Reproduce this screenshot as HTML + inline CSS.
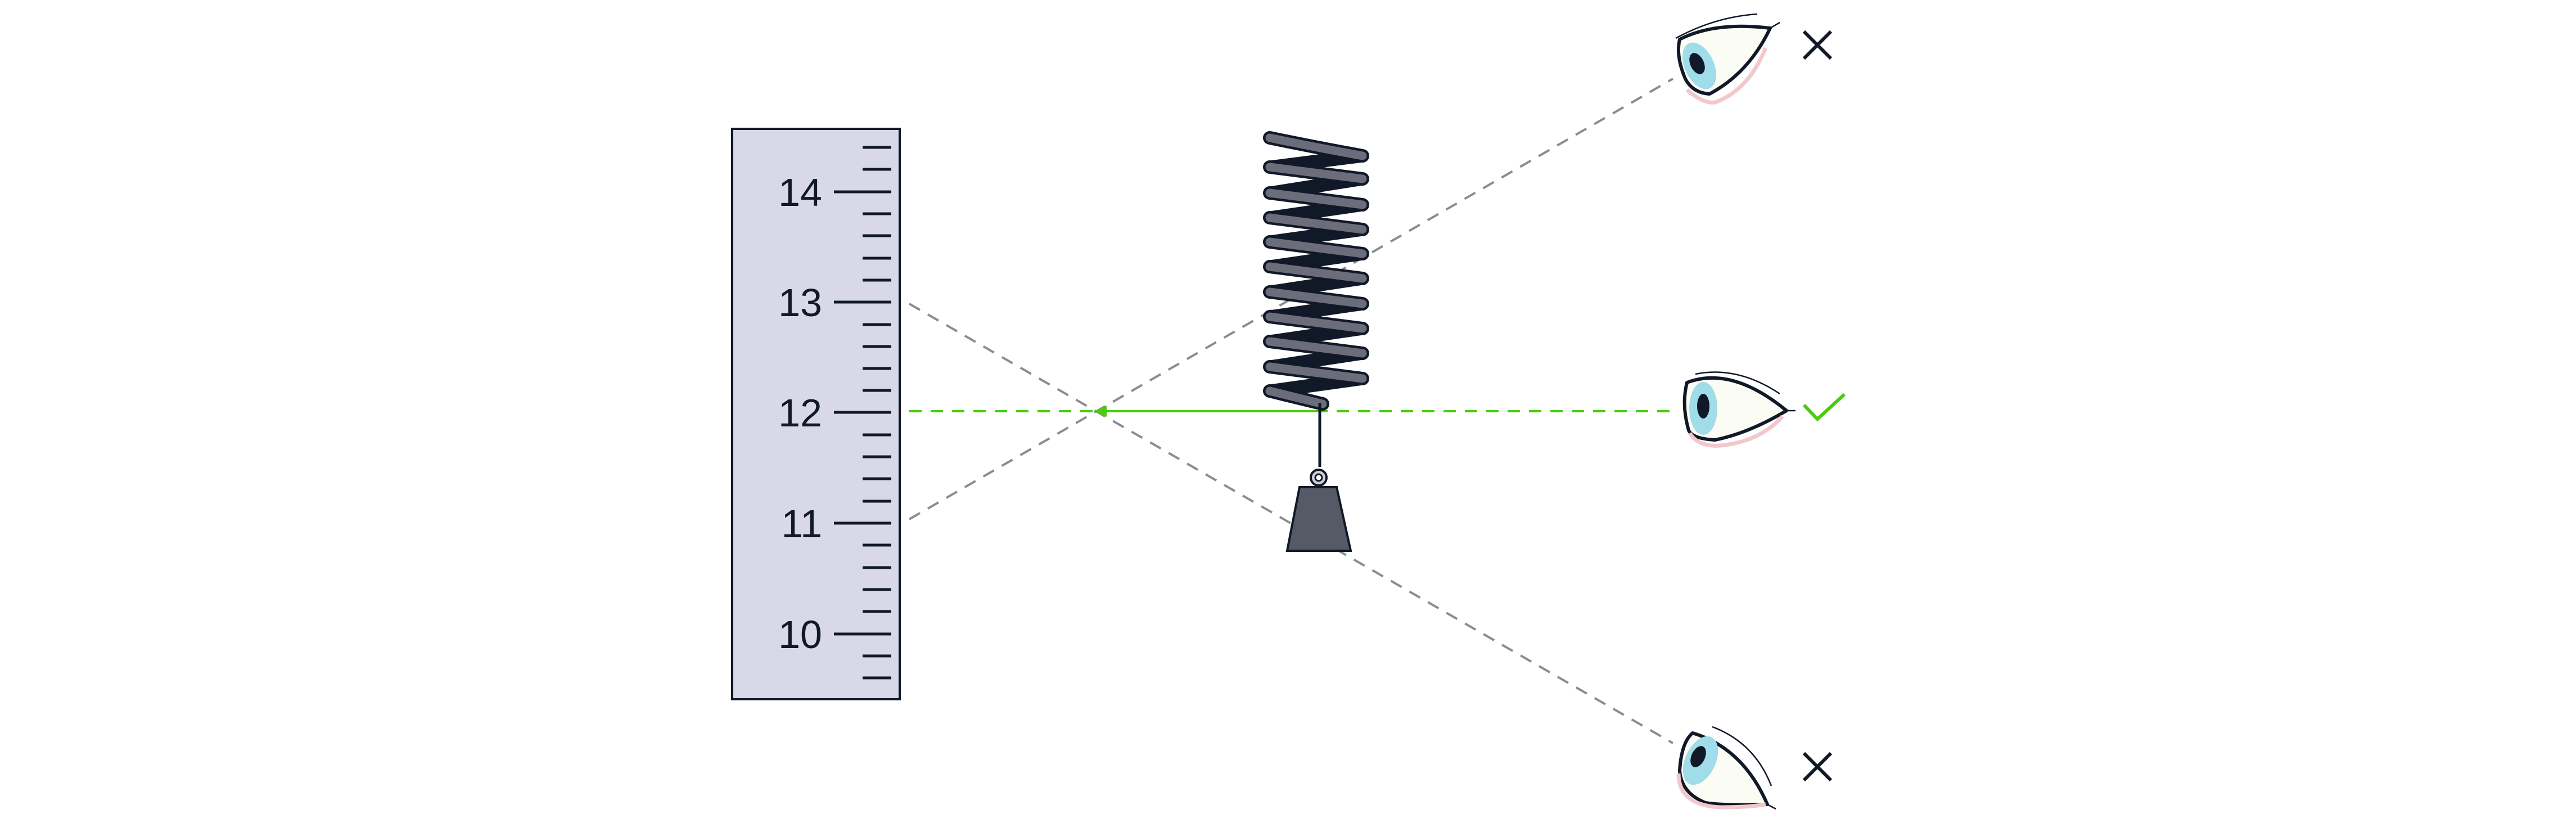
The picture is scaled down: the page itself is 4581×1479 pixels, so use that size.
<!DOCTYPE html>
<html><head><meta charset="utf-8"><style>
html,body{margin:0;padding:0;background:#fff;}
svg{display:block;}
</style></head><body>
<svg width="4581" height="1479" viewBox="0 0 4581 1479" xmlns="http://www.w3.org/2000/svg">
<rect x="1302" y="229" width="298" height="1014" fill="#d8d8e8" stroke="#111827" stroke-width="4"/>
<g stroke="#111827" stroke-width="5">
<line x1="1534" y1="262" x2="1585" y2="262"/>
<line x1="1534" y1="301" x2="1585" y2="301"/>
<line x1="1483" y1="341" x2="1585" y2="341"/>
<line x1="1534" y1="380" x2="1585" y2="380"/>
<line x1="1534" y1="419" x2="1585" y2="419"/>
<line x1="1534" y1="459" x2="1585" y2="459"/>
<line x1="1534" y1="498" x2="1585" y2="498"/>
<line x1="1483" y1="537" x2="1585" y2="537"/>
<line x1="1534" y1="577" x2="1585" y2="577"/>
<line x1="1534" y1="616" x2="1585" y2="616"/>
<line x1="1534" y1="655" x2="1585" y2="655"/>
<line x1="1534" y1="694" x2="1585" y2="694"/>
<line x1="1483" y1="733" x2="1585" y2="733"/>
<line x1="1534" y1="773" x2="1585" y2="773"/>
<line x1="1534" y1="812" x2="1585" y2="812"/>
<line x1="1534" y1="851" x2="1585" y2="851"/>
<line x1="1534" y1="891" x2="1585" y2="891"/>
<line x1="1483" y1="930" x2="1585" y2="930"/>
<line x1="1534" y1="969" x2="1585" y2="969"/>
<line x1="1534" y1="1009" x2="1585" y2="1009"/>
<line x1="1534" y1="1048" x2="1585" y2="1048"/>
<line x1="1534" y1="1087" x2="1585" y2="1087"/>
<line x1="1483" y1="1127" x2="1585" y2="1127"/>
<line x1="1534" y1="1166" x2="1585" y2="1166"/>
<line x1="1534" y1="1205" x2="1585" y2="1205"/>
</g>
<g font-family="Liberation Sans, sans-serif" font-size="70" fill="#111827" text-anchor="end">
<text x="1462" y="366">14</text>
<text x="1462" y="562">13</text>
<text x="1462" y="758">12</text>
<text x="1462" y="955">11</text>
<text x="1462" y="1152">10</text>
</g>
<g stroke="#8a8b94" stroke-width="4" stroke-dasharray="22,16" fill="none">
<line x1="1617" y1="923" x2="2975" y2="140"/>
<line x1="1617" y1="540" x2="2975" y2="1321"/>
</g>
<line x1="1617" y1="731" x2="2975" y2="731" stroke="#4ccc10" stroke-width="4" stroke-dasharray="22,16"/>
<line x1="1960" y1="731" x2="2347" y2="731" stroke="#4ccc10" stroke-width="4"/>
<polygon points="1945,731 1968,721 1968,741" fill="#4ccc10"/>
<g stroke="#111827" stroke-width="24" stroke-linecap="round" fill="none">
<line x1="2420" y1="277" x2="2262" y2="297"/>
<line x1="2420" y1="318" x2="2262" y2="343"/>
<line x1="2420" y1="364" x2="2262" y2="387"/>
<line x1="2420" y1="408" x2="2262" y2="430"/>
<line x1="2420" y1="451" x2="2262" y2="474"/>
<line x1="2420" y1="495" x2="2262" y2="519"/>
<line x1="2420" y1="540" x2="2262" y2="563"/>
<line x1="2420" y1="584" x2="2262" y2="607"/>
<line x1="2420" y1="628" x2="2262" y2="652"/>
<line x1="2420" y1="673" x2="2262" y2="695"/>
</g>
<g fill="none" stroke-linecap="round">
<g stroke="#111827" stroke-width="24">
<path d="M2258 245 Q2340 262 2423 277"/>
<line x1="2258" y1="297" x2="2423" y2="318"/>
<line x1="2258" y1="343" x2="2423" y2="364"/>
<line x1="2258" y1="387" x2="2423" y2="408"/>
<line x1="2258" y1="430" x2="2423" y2="451"/>
<line x1="2258" y1="474" x2="2423" y2="495"/>
<line x1="2258" y1="519" x2="2423" y2="540"/>
<line x1="2258" y1="563" x2="2423" y2="584"/>
<line x1="2258" y1="607" x2="2423" y2="628"/>
<line x1="2258" y1="652" x2="2423" y2="673"/>
<line x1="2258" y1="695" x2="2352" y2="718"/>
</g>
<g stroke="#6b6d7a" stroke-width="15">
<path d="M2258 245 Q2340 262 2423 277"/>
<line x1="2258" y1="297" x2="2423" y2="318"/>
<line x1="2258" y1="343" x2="2423" y2="364"/>
<line x1="2258" y1="387" x2="2423" y2="408"/>
<line x1="2258" y1="430" x2="2423" y2="451"/>
<line x1="2258" y1="474" x2="2423" y2="495"/>
<line x1="2258" y1="519" x2="2423" y2="540"/>
<line x1="2258" y1="563" x2="2423" y2="584"/>
<line x1="2258" y1="607" x2="2423" y2="628"/>
<line x1="2258" y1="652" x2="2423" y2="673"/>
<line x1="2258" y1="695" x2="2352" y2="718"/>
</g>
</g>
<line x1="2347" y1="716" x2="2347" y2="830" stroke="#111827" stroke-width="5"/>
<circle cx="2345" cy="849" r="14" fill="#d0d0d8" stroke="#111827" stroke-width="4"/>
<circle cx="2345" cy="849" r="6" fill="#fff" stroke="#111827" stroke-width="3"/>
<polygon points="2311,866 2377,866 2402,979 2289,979" fill="#555a66" stroke="#111827" stroke-width="4"/>
<g stroke="#111827" stroke-linejoin="round">
<path d="M2987 70 Q3050 38 3148 50 Q3110 130 3040 167 Q3010 165 2997 140 Q2980 100 2987 70Z" fill="#fbfcf4" stroke-width="6"/>
<path d="M3000 160 Q3030 185 3050 182 Q3110 160 3140 85" fill="none" stroke="#f2c8cc" stroke-width="7"/>
<ellipse cx="3022" cy="117" rx="26" ry="44" transform="rotate(-25 3022 117)" fill="#a0dcea" stroke="none"/>
<ellipse cx="3018" cy="113" rx="12" ry="20" transform="rotate(-25 3018 113)" fill="#111827" stroke="none"/>
<path d="M2980 68 Q3050 30 3125 25" fill="none" stroke-width="2.5"/>
<path d="M3148 50 L3165 40" fill="none" stroke-width="2.5"/>
<path d="M3000 680 Q3080 650 3177 730 Q3110 770 3050 782 Q3010 780 3003 765 Q2990 720 3000 680Z" fill="#fbfcf4" stroke-width="6"/>
<path d="M3005 770 Q3020 795 3060 792 Q3130 785 3170 740" fill="none" stroke="#f2c8cc" stroke-width="7"/>
<ellipse cx="3029" cy="726" rx="25" ry="47" fill="#a0dcea" stroke="none"/>
<ellipse cx="3029" cy="722" rx="11" ry="22" fill="#111827" stroke="none"/>
<path d="M3015 665 Q3090 650 3165 700" fill="none" stroke-width="2.5"/>
<line x1="3177" y1="730" x2="3193" y2="730" stroke-width="2.5"/>
<path d="M3010 1303 Q3100 1330 3143 1430 Q3060 1432 3033 1427 Q2990 1410 2987 1370 Q2990 1320 3010 1303Z" fill="#fbfcf4" stroke-width="6"/>
<path d="M2985 1375 Q2985 1432 3060 1435 Q3110 1435 3140 1430" fill="none" stroke="#f2c8cc" stroke-width="7"/>
<ellipse cx="3024" cy="1352" rx="27" ry="46" transform="rotate(25 3024 1352)" fill="#a0dcea" stroke="none"/>
<ellipse cx="3020" cy="1345" rx="12" ry="20" transform="rotate(25 3020 1345)" fill="#111827" stroke="none"/>
<path d="M3045 1292 Q3120 1320 3150 1397" fill="none" stroke-width="2.5"/>
<line x1="3143" y1="1430" x2="3158" y2="1438" stroke-width="2.5"/>
</g>
<g stroke="#111827" stroke-width="6">
<line x1="3208" y1="56" x2="3256" y2="104"/><line x1="3256" y1="56" x2="3208" y2="104"/>
<line x1="3208" y1="1339" x2="3256" y2="1387"/><line x1="3256" y1="1339" x2="3208" y2="1387"/>
</g>
<polyline points="3208,720 3232,745 3280,701" fill="none" stroke="#4ccc10" stroke-width="6"/>
</svg>
</body></html>
